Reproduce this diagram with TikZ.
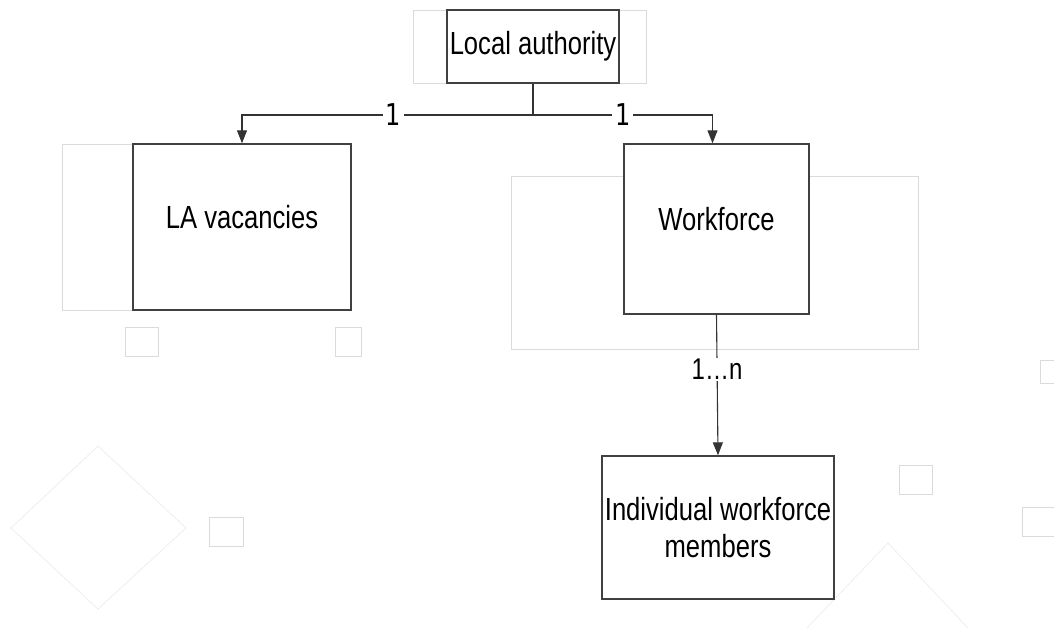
\documentclass[tikz,border=0pt]{standalone}
\usepackage{fontspec}
\setmainfont{Liberation Sans}[FakeStretch=0.8]
\newfontfamily\onefont{DejaVu Sans}[FakeStretch=0.8]
\usetikzlibrary{arrows.meta}

\begin{document}
\begin{tikzpicture}[x=1pt,y=-1pt,
  entity/.style={draw=black!75, line width=1.4pt, fill=white, inner sep=0pt,
    font=\fontsize{32}{37}\selectfont, align=center},
  link/.style={draw=black!80, line width=1.1pt},
  linkarrow/.style={link, -{Triangle[width=10pt,length=13pt]}},
  cardinal/.style={fill=white, inner sep=3pt, font=\fontsize{30}{32}\selectfont},
  ghost/.style={draw=black!14, line width=0.8pt},
  ghostfaint/.style={draw=black!7, line width=0.8pt}]

\newcommand\LinkY{115}

\useasboundingbox (0,0) rectangle (1054,628);

%% faint leftovers in the background
\draw[ghost] (413,10) rectangle (646,83);
\draw[ghost] (62,144) rectangle (334,310);
\draw[ghost] (511,176) rectangle (918,349);
\draw[ghost] (125,327) rectangle (158,356);
\draw[ghost] (335,327) rectangle (361,356);
\draw[ghost] (1040,360) rectangle (1056,383);
\draw[ghost] (899,465) rectangle (932,494);
\draw[ghost] (1022,507) rectangle (1056,536);
\draw[ghost] (209,517) rectangle (243,546);
\draw[ghostfaint] (98,446) -- (186,528) -- (98,609) -- (11,528) -- cycle;
\draw[ghostfaint] (807,628) -- (888,543) -- (968,628);

%% entities
\node[entity, minimum width=172pt, minimum height=73pt] (la) at (533,46.5) {Local authority};
\node[entity, minimum width=218pt, minimum height=166pt, text height=23pt, text depth=20pt]
  (vac) at (242,227) {LA vacancies};
\node[entity, minimum width=185pt, minimum height=170pt, text height=23pt, text depth=20pt]
  (wf) at (716.5,229) {Workforce};
\node[entity, minimum width=232pt, minimum height=143pt] (ind) at (718,527.5)
  {Individual workforce\\members};

%% relations
\coordinate (jn) at (la.south |- 0,\LinkY);
\draw[link] (la.south) -- (jn);
\draw[linkarrow] (jn) -| node[cardinal, pos=0.24]{\onefont 1} (vac.north);
\draw[linkarrow] (jn) -| node[cardinal, pos=0.25]{\onefont 1} ([xshift=-4pt]wf.north);
\draw[linkarrow] (wf.south) -- node[cardinal, pos=0.39, inner sep=1pt]{1…n} (ind.north);

\end{tikzpicture}
\end{document}
